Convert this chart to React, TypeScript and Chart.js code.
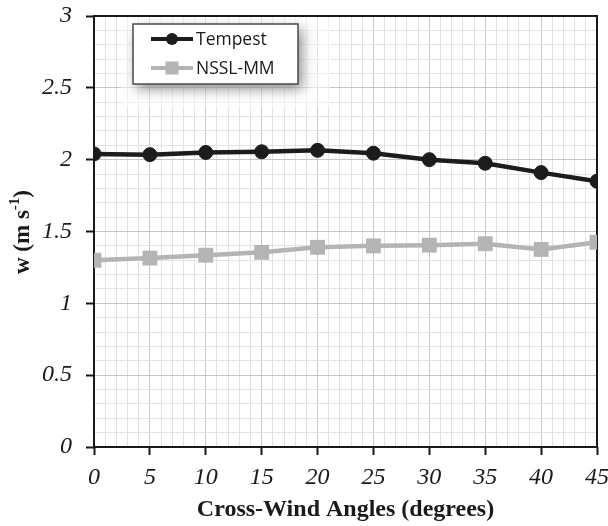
import React, { useEffect, useRef } from "react";
import { Chart, registerables } from "chart.js";

Chart.register(...registerables);

const angles = [0, 5, 10, 15, 20, 25, 30, 35, 40, 45];
const tempest = [2.04, 2.035, 2.05, 2.055, 2.065, 2.045, 2.0, 1.975, 1.91, 1.85];
const nssl = [1.3, 1.315, 1.335, 1.355, 1.39, 1.4, 1.405, 1.415, 1.375, 1.425];
const seriesNames = ["Tempest", "NSSL-MM"];
const xTitle = "Cross-Wind Angles (degrees)";
const yTitleMain = "w (m s";
const yTitleSup = "-1";
const yTitleEnd = ")";

const SERIF = '"Liberation Serif", "Times New Roman", serif';
const SANS = '"Open Sans", "Noto Sans", sans-serif';

const framePlugin = {
  id: "frame",
  beforeDatasetsDraw(chart: any) {
    const { ctx, chartArea: a } = chart;
    ctx.save();
    // faded legend backdrop region
    ctx.fillStyle = "rgba(255,255,255,0.5)";
    ctx.fillRect(121, a.top + 1, 209, 92);
    ctx.strokeStyle = "#1a1a1a";
    ctx.lineWidth = 2;
    ctx.strokeRect(a.left, a.top, a.right - a.left, a.bottom - a.top);
    ctx.restore();
  },
  afterDraw(chart: any) {
    const { ctx, chartArea: a } = chart;
    ctx.save();
    // x title
    ctx.fillStyle = "#1a1a1a";
    ctx.font = `bold 24px ${SERIF}`;
    ctx.textAlign = "center";
    ctx.textBaseline = "middle";
    ctx.fillText(xTitle, (a.left + a.right) / 2, 510);
    // y title rotated with superscript
    ctx.translate(22, 232);
    ctx.rotate(-Math.PI / 2);
    const mainFont = `bold 23px ${SERIF}`;
    const supFont = `bold 15px ${SERIF}`;
    ctx.font = mainFont;
    const w1 = ctx.measureText(yTitleMain).width;
    const w3 = ctx.measureText(yTitleEnd).width;
    ctx.font = supFont;
    const w2 = ctx.measureText(yTitleSup).width;
    const total = w1 + w2 + w3;
    let x = -total / 2;
    ctx.textAlign = "left";
    ctx.textBaseline = "alphabetic";
    ctx.font = mainFont;
    ctx.fillText(yTitleMain, x, 7);
    x += w1;
    ctx.font = supFont;
    ctx.fillText(yTitleSup, x, -3);
    x += w2;
    ctx.font = mainFont;
    ctx.fillText(yTitleEnd, x, 7);
    ctx.restore();

    // legend
    const ds = chart.data.datasets;
    ctx.save();
    const bx = 133, by = 24, bw = 165, bh = 60;
    ctx.shadowColor = "rgba(0,0,0,0.45)";
    ctx.shadowBlur = 12;
    ctx.shadowOffsetX = 4;
    ctx.shadowOffsetY = 5;
    ctx.fillStyle = "#ffffff";
    ctx.fillRect(bx, by, bw, bh);
    ctx.shadowColor = "transparent";
    ctx.strokeStyle = "#4a4a4a";
    ctx.lineWidth = 1.5;
    ctx.strokeRect(bx, by, bw, bh);
    const rows = [39, 68];
    ds.forEach((d: any, i: number) => {
      const y = rows[i];
      ctx.strokeStyle = d.borderColor;
      ctx.lineWidth = 4;
      ctx.beginPath();
      ctx.moveTo(151, y);
      ctx.lineTo(193, y);
      ctx.stroke();
      ctx.fillStyle = d.pointBackgroundColor;
      if (d.pointStyle === "rect") {
        ctx.fillRect(172 - 6.5, y - 6.5, 13, 13);
      } else {
        ctx.beginPath();
        ctx.arc(172, y, 6, 0, Math.PI * 2);
        ctx.fill();
      }
      ctx.fillStyle = "#1a1a1a";
      ctx.font = `17.5px ${SANS}`;
      ctx.textAlign = "left";
      ctx.textBaseline = "middle";
      ctx.fillText(d.label, 196, y + 1);
    });
    ctx.restore();
  },
};

function isMajorX(v: number) {
  return Math.round(v) % 5 === 0;
}
function isMajorY(v: number) {
  return Math.round(v * 10) % 5 === 0;
}

export default function App() {
  const ref = useRef<HTMLCanvasElement>(null);
  useEffect(() => {
    if (!ref.current) return;
    const chart = new Chart(ref.current, {
      type: "line",
      data: {
        datasets: [
          {
            label: seriesNames[0],
            data: angles.map((a, i) => ({ x: a, y: tempest[i] })),
            borderColor: "#1c1c1c",
            backgroundColor: "#1c1c1c",
            pointBackgroundColor: "#1c1c1c",
            pointBorderColor: "#1c1c1c",
            borderWidth: 4.5,
            pointStyle: "circle",
            pointRadius: 7,
            pointBorderWidth: 1,
            tension: 0,
          },
          {
            label: seriesNames[1],
            data: angles.map((a, i) => ({ x: a, y: nssl[i] })),
            borderColor: "#b4b4b4",
            backgroundColor: "#b4b4b4",
            pointBackgroundColor: "#b4b4b4",
            pointBorderColor: "#b4b4b4",
            borderWidth: 4.5,
            pointStyle: "rect",
            pointRadius: 10.5,
            pointBorderWidth: 0,
            tension: 0,
          },
        ],
      },
      options: {
        animation: false,
        responsive: false,
        layout: { padding: { left: 0, right: 11, top: 16, bottom: 0 } },
        plugins: {
          legend: { display: false },
          tooltip: { enabled: false },
        },
        scales: {
          x: {
            type: "linear",
            min: 0,
            max: 45,
            afterFit: (s: any) => {
              s.height = 79;
              s.paddingLeft = 0;
              s.paddingRight = 0;
            },
            ticks: {
              stepSize: 1,
              autoSkip: false,
              maxRotation: 0,
              maxTicksLimit: 1000,
              padding: 8,
              color: "#1a1a1a",
              font: { family: SERIF, size: 24, style: "italic" },
              callback: (v: any) => (isMajorX(v) ? String(Math.round(v)) : ""),
            },
            grid: {
              color: (c: any) => (isMajorX(c.tick.value) ? "#c6c6c6" : "#e3e3e3"),
              lineWidth: 1,
              tickLength: 8,
              tickWidth: 2,
              tickColor: (c: any) => (isMajorX(c.tick.value) ? "#1a1a1a" : "rgba(0,0,0,0)"),
            },
            border: { display: false },
          },
          y: {
            type: "linear",
            min: 0,
            max: 3,
            afterFit: (s: any) => {
              s.width = 94;
              s.paddingTop = 0;
              s.paddingBottom = 0;
            },
            ticks: {
              stepSize: 0.1,
              autoSkip: false,
              maxTicksLimit: 1000,
              padding: 14,
              color: "#1a1a1a",
              font: { family: SERIF, size: 24, style: "italic" },
              callback: (v: any) => (isMajorY(v) ? String(Math.round(v * 10) / 10) : ""),
            },
            grid: {
              color: (c: any) => (isMajorY(c.tick.value) ? "#c6c6c6" : "#e3e3e3"),
              lineWidth: 1,
              tickLength: 8,
              tickWidth: 2,
              tickColor: (c: any) => (isMajorY(c.tick.value) ? "#1a1a1a" : "rgba(0,0,0,0)"),
            },
            border: { display: false },
          },
        },
      } as any,
      plugins: [framePlugin],
    });
    return () => chart.destroy();
  }, []);
  return (
    <div style={{ position: "fixed", left: 0, top: 0, width: 608, height: 526 }}>
      <canvas ref={ref} width={608} height={526} />
    </div>
  );
}
